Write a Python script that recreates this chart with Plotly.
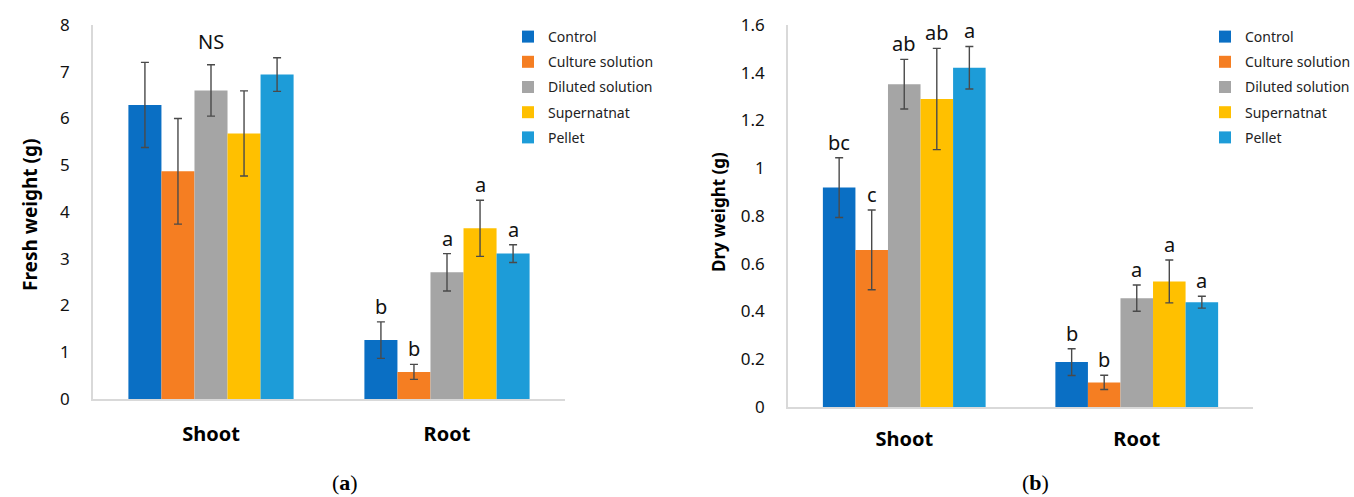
import plotly.graph_objects as go

categories = ["Shoot", "Root"]
series = ["Control", "Culture solution", "Diluted solution", "Supernatnat", "Pellet"]
colors = ["#0A6FC4", "#F57E22", "#A5A5A5", "#FFC000", "#1D9CD8"]

fresh_vals = {
    "Control": [6.29, 1.26],
    "Culture solution": [4.87, 0.58],
    "Diluted solution": [6.60, 2.71],
    "Supernatnat": [5.68, 3.65],
    "Pellet": [6.94, 3.11],
}
fresh_err = {
    "Control": [0.91, 0.39],
    "Culture solution": [1.13, 0.16],
    "Diluted solution": [0.55, 0.40],
    "Supernatnat": [0.91, 0.60],
    "Pellet": [0.36, 0.19],
}
fresh_letters = {
    "Control": ["", "b"],
    "Culture solution": ["", "b"],
    "Diluted solution": ["", "a"],
    "Supernatnat": ["", "a"],
    "Pellet": ["", "a"],
}
fresh_group_label = ["NS", ""]
fresh_group_label_y = [7.64, None]

dry_vals = {
    "Control": [0.919, 0.188],
    "Culture solution": [0.658, 0.103],
    "Diluted solution": [1.352, 0.456],
    "Supernatnat": [1.290, 0.526],
    "Pellet": [1.421, 0.439],
}
dry_err = {
    "Control": [0.125, 0.056],
    "Culture solution": [0.167, 0.030],
    "Diluted solution": [0.104, 0.055],
    "Supernatnat": [0.212, 0.090],
    "Pellet": [0.089, 0.025],
}
dry_letters = {
    "Control": ["bc", "b"],
    "Culture solution": ["c", "b"],
    "Diluted solution": ["ab", "a"],
    "Supernatnat": ["ab", "a"],
    "Pellet": ["a", "a"],
}

BARGAP = 0.30
FONT = "Noto Sans"
AXIS_GRAY = "#D9D9D9"

fig = go.Figure()

panels = [
    ("x", "y", "legend", fresh_vals, fresh_err, fresh_letters),
    ("x2", "y2", "legend2", dry_vals, dry_err, dry_letters),
]

for xa, ya, lg, vals, errs, letters in panels:
    for i, s in enumerate(series):
        fig.add_trace(go.Bar(
            x=categories, y=vals[s], name=s, xaxis=xa, yaxis=ya, legend=lg,
            legendgroup=lg + s,
            marker=dict(color=colors[i], line=dict(width=0)),
            error_y=dict(type="data", array=errs[s], color="#4A4A4A", thickness=1.4, width=4),
        ))
        n = len(series)
        w = (1 - BARGAP) / n
        for j, c in enumerate(categories):
            t = letters[s][j]
            if t:
                fig.add_annotation(
                    x=j + (i - (n - 1) / 2) * w, y=vals[s][j] + errs[s][j],
                    xref=xa, yref=ya, text=t, showarrow=False,
                    yanchor="bottom", yshift=0,
                    font=dict(family=FONT, size=20, color="#111111"),
                )

for j, t in enumerate(fresh_group_label):
    if t:
        fig.add_annotation(x=j, y=fresh_group_label_y[j], xref="x", yref="y", text=t,
                           showarrow=False, yanchor="middle",
                           font=dict(family=FONT, size=20, color="#111111"))

tick_font = dict(family=FONT, size=17, color="#111111")
cat_font = dict(family=FONT, size=20, color="#000000")

def xaxis_cfg(domain, anchor, standoff):
    return dict(
        domain=domain, anchor=anchor, type="category",
        tickvals=categories, ticktext=["<b>%s</b>" % c for c in categories],
        tickfont=cat_font, showline=True, linecolor=AXIS_GRAY, linewidth=1.5,
        ticks="", showgrid=False, zeroline=False, ticklabelstandoff=standoff,
        fixedrange=True,
    )

def yaxis_cfg(domain, anchor, rng, dtick):
    return dict(
        domain=domain, anchor=anchor, range=rng, dtick=dtick,
        tickfont=tick_font, showline=True, linecolor=AXIS_GRAY, linewidth=1.5,
        ticks="", showgrid=False, zeroline=False, ticklabelstandoff=18,
    )

W, H = 1354, 497
fig.update_layout(
    width=W, height=H,
    margin=dict(l=0, r=0, t=0, b=0, autoexpand=False),
    paper_bgcolor="white", plot_bgcolor="white",
    barmode="group", bargap=BARGAP, bargroupgap=0,
    xaxis=xaxis_cfg([93 / W, 565 / W], "y", 16),
    yaxis=yaxis_cfg([(H - 399) / H, (H - 25) / H], "x", [0, 8], 1),
    xaxis2=xaxis_cfg([788 / W, 1253 / W], "y2", 13),
    yaxis2=yaxis_cfg([(H - 407) / H, (H - 25) / H], "x2", [0, 1.6], 0.2),
    legend=dict(x=508 / W, y=1 - 21 / H, xanchor="left", yanchor="top",
                font=dict(family=FONT, size=14, color="#222222"),
                tracegroupgap=4, bgcolor="rgba(0,0,0,0)"),
    legend2=dict(x=1205 / W, y=1 - 21 / H, xanchor="left", yanchor="top",
                 font=dict(family=FONT, size=14, color="#222222"),
                 tracegroupgap=4, bgcolor="rgba(0,0,0,0)"),
    showlegend=True,
)

fig.add_annotation(x=30 / W, y=1 - 215 / H, xref="paper", yref="paper",
                   xanchor="center", yanchor="middle",
                   text="<b>Fresh weight (g)</b>", textangle=-90, showarrow=False,
                   font=dict(family=FONT, size=19, color="#000000"))
fig.add_annotation(x=718 / W, y=1 - 212 / H, xref="paper", yref="paper",
                   xanchor="center", yanchor="middle",
                   text="<b>Dry weight (g)</b>", textangle=-90, showarrow=False,
                   font=dict(family=FONT, size=17, color="#000000"))
fig.add_annotation(x=345 / W, y=1 - 482 / H, xref="paper", yref="paper",
                   xanchor="center", yanchor="middle",
                   text="(<b>a</b>)", showarrow=False,
                   font=dict(family="Liberation Serif", size=22, color="#000000"))
fig.add_annotation(x=1035 / W, y=1 - 482 / H, xref="paper", yref="paper",
                   xanchor="center", yanchor="middle",
                   text="(<b>b</b>)", showarrow=False,
                   font=dict(family="Liberation Serif", size=22, color="#000000"))

fig.write_html("out.html", config={"displayModeBar": False},
               post_script="document.body.style.margin='0';document.body.style.overflow='hidden';")
